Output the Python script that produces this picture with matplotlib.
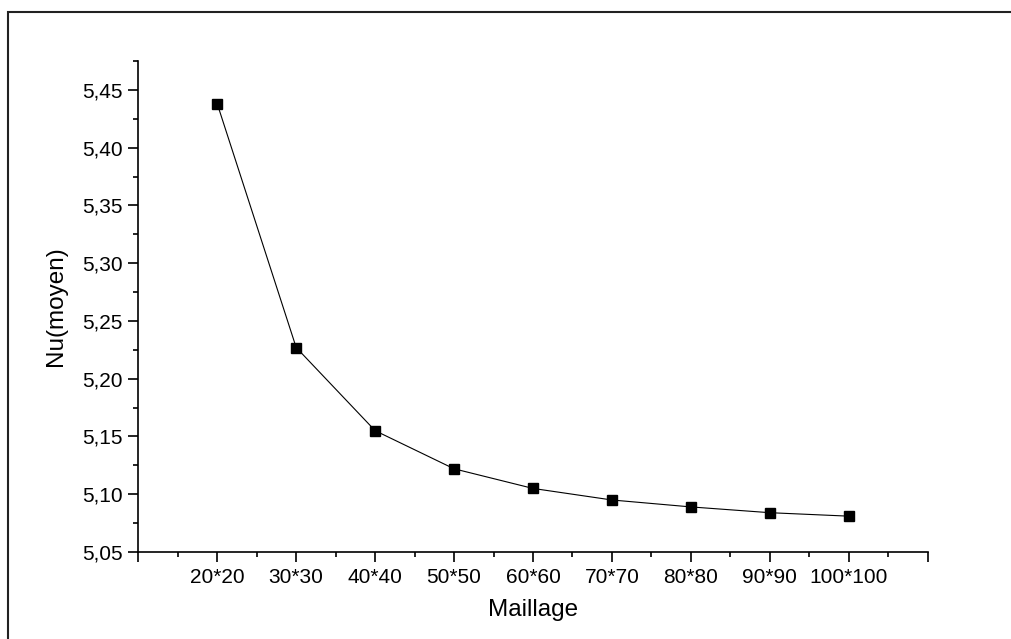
import matplotlib
matplotlib.use("Agg")
import matplotlib.pyplot as plt
from matplotlib.patches import Rectangle
from matplotlib.ticker import MultipleLocator, FuncFormatter

# mesh sizes and mean Nusselt number
maillage = ["20*20", "30*30", "40*40", "50*50", "60*60",
            "70*70", "80*80", "90*90", "100*100"]
nu_moyen = [5.438, 5.227, 5.155, 5.122, 5.105, 5.095, 5.089, 5.084, 5.081]

plt.rcParams["font.family"] = ["Liberation Sans", "DejaVu Sans"]

fig = plt.figure(figsize=(10.11, 6.39), dpi=100)
ax = fig.add_axes([0.1368, 0.1362, 0.7808, 0.7683])

xpos = list(range(1, len(maillage) + 1))
ax.plot(xpos, nu_moyen, color="black", linewidth=0.8,
        marker="s", markersize=7.2, markerfacecolor="black",
        markeredgecolor="black")

ax.set_xlim(0, 10)
ax.set_ylim(5.05, 5.475)

ax.set_xticks(range(0, 11))
ax.set_xticklabels([""] + maillage + [""])
ax.xaxis.set_minor_locator(MultipleLocator(0.5))

ax.yaxis.set_major_locator(MultipleLocator(0.05))
ax.yaxis.set_minor_locator(MultipleLocator(0.025))
ax.yaxis.set_major_formatter(FuncFormatter(lambda v, p: f"{v:.2f}".replace(".", ",")))

for side in ["top", "right"]:
    ax.spines[side].set_visible(False)
for side in ["left", "bottom"]:
    ax.spines[side].set_linewidth(1.2)

ax.tick_params(which="major", direction="out", length=7.2, width=1.2,
               labelsize=15, pad=4)
ax.tick_params(which="minor", direction="out", length=3.6, width=1.2)

ax.set_xlabel("Maillage", fontsize=17.5, labelpad=9)
ax.set_ylabel("Nu(moyen)", fontsize=17.5, labelpad=11)

# outer frame around the whole picture
fig.patches.append(Rectangle((8 / 1011, -0.1), 1.2, (639 - 12) / 639 + 0.1,
                             transform=fig.transFigure, fill=False,
                             edgecolor="#222222", linewidth=1.5))

fig.savefig("out.png", dpi=100)
